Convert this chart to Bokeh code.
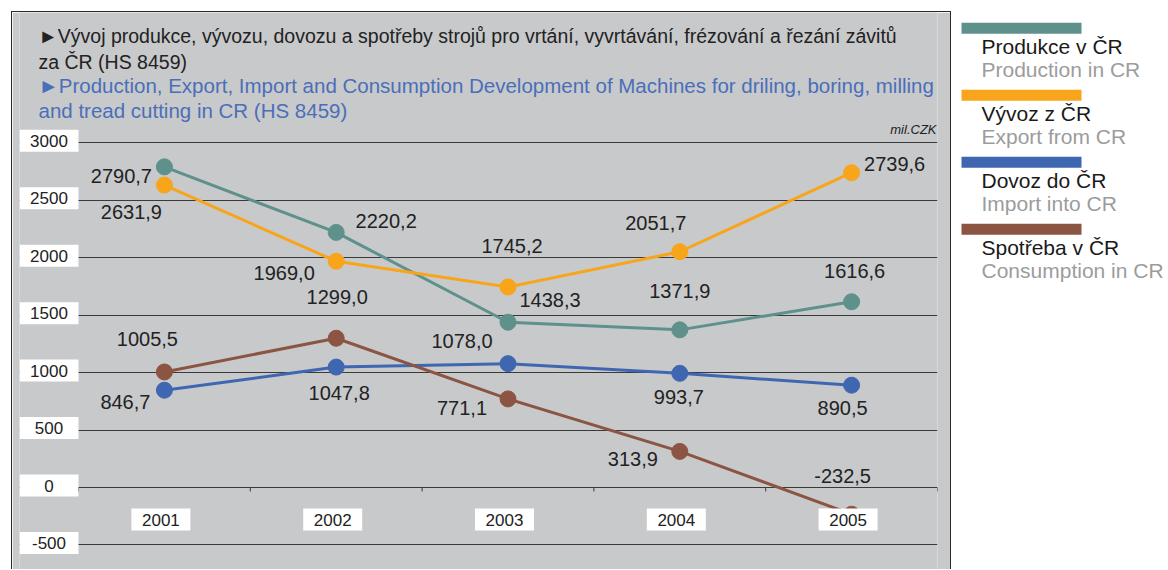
from bokeh.plotting import figure
from bokeh.models import Range1d, FixedTicker, ColumnDataSource
from bokeh.layouts import row
from bokeh.embed import file_html
from bokeh.resources import INLINE
from bokeh.core.properties import value

# ---------------- data ----------------
years = ["2001", "2002", "2003", "2004", "2005"]
produkce = [2790.7, 2220.2, 1438.3, 1371.9, 1616.6]
vyvoz = [2631.9, 1969.0, 1745.2, 2051.7, 2739.6]
dovoz = [846.7, 1047.8, 1078.0, 993.7, 890.5]
spotreba = [1005.5, 1299.0, 771.1, 313.9, -232.5]
y_ticks = [-500, 0, 500, 1000, 1500, 2000, 2500, 3000]

series_cz = ["Produkce v ČR", "Vývoz z ČR", "Dovoz do ČR", "Spotřeba v ČR"]
series_en = ["Production in CR", "Export from CR", "Import into CR", "Consumption in CR"]
title_cz = ["►Vývoj produkce, vývozu, dovozu a spotřeby strojů pro vrtání, vyvrtávání, frézování a řezání závitů",
            "za ČR (HS 8459)"]
title_en = ["►Production, Export, Import and Consumption Development of Machines for driling, boring, milling",
            "and tread cutting in CR (HS 8459)"]
unit_label = "mil.CZK"

# ---------------- styles / positions ----------------
colors = ["#5f918c", "#f8a51b", "#3f67b1", "#8c5543"]
BG = "#c8c9cb"
FONT = "Liberation Sans"
label_dx = [[-43, 50, 42, 0, 3], [-33, -52, 4, -24, 43], [-39, 3, -46, -1, -9], [-17, 1, -46, -47, -9]]
label_dy = [[9, -11, -22, -39, -31], [27, 12, -41, -29, -9], [12, 26, -23, 24, 23], [-33, -41, 9, 8, -38]]

W_L, H_L = 940, 558
FL, FR = 7, 15
frame_w = W_L - FL - FR
X_PX = 171.8          # px per category
Y_PX = 0.1149         # px per unit
n = len(years)
x_end = n - 0.5
x_start = x_end - frame_w / X_PX
y_end = 475 / Y_PX    # zero line 475 px below frame top
y_start = y_end - H_L / Y_PX

p = figure(width=W_L, height=H_L, output_backend="svg", toolbar_location=None,
           x_range=Range1d(x_start, x_end), y_range=Range1d(y_start, y_end),
           min_border_left=FL, min_border_right=FR, min_border_top=0, min_border_bottom=0,
           background_fill_color=BG, border_fill_color=BG, outline_line_color=None)
p.styles = {"margin": "11px 0px 0px 11px", "border-left": "1px solid #2a2a2a",
            "border-top": "1px solid #2a2a2a", "border-right": "1px solid #2a2a2a"}
p.xaxis.visible = False
p.yaxis.visible = False
p.xgrid.visible = False
p.ygrid.ticker = FixedTicker(ticks=y_ticks)
p.ygrid.grid_line_color = "#3a3a3a"
p.ygrid.grid_line_width = 1

# titles
title_lines = [title_cz[0], title_cz[1], title_en[0], title_en[1]]
title_cols = ["#222222", "#222222", "#4a6fb8", "#4a6fb8"]
title_sizes = ["19.5px", "19.5px", "20.5px", "20.5px"]
title_dy = [23, 49, 73, 98]
for txt, col, fs, dy in zip(title_lines, title_cols, title_sizes, title_dy):
    p.text(x=[x_start], y=[y_end], text=[txt], x_offset=19, y_offset=dy,
           text_align="left", text_baseline="middle", text_font=value(FONT),
           text_font_size=fs, text_color=col)

# zero-line tick marks at category boundaries
bounds = [i - 0.5 for i in range(n + 1)]
p.segment(x0=bounds, y0=[0] * len(bounds), x1=bounds, y1=[-4 / Y_PX] * len(bounds),
          line_color="#3a3a3a", line_width=1)

xs = list(range(n))
all_series = [produkce, vyvoz, dovoz, spotreba]
for vals, col in zip(all_series, colors):
    p.line(xs, vals, line_color=col, line_width=3)
    p.scatter(xs, vals, size=16, fill_color=col, line_color=col)

for vals, dxs, dys in zip(all_series, label_dx, label_dy):
    src = ColumnDataSource(dict(x=xs, y=vals, t=[format(v, ".1f").replace(".", ",") for v in vals],
                                dx=dxs, dy=dys))
    p.text(x="x", y="y", text="t", x_offset="dx", y_offset="dy", source=src,
           text_align="center", text_baseline="middle", text_font=value(FONT),
           text_font_size="20px", text_color="#222222")

# y tick labels in white boxes
ytx = -0.5 - 29.5 / X_PX
p.rect(x=[ytx] * len(y_ticks), y=[t + 2 / Y_PX for t in y_ticks], width=59, height=22,
       width_units="screen", height_units="screen", fill_color="white", line_color=None)
p.text(x=[ytx] * len(y_ticks), y=y_ticks, text=[str(t) for t in y_ticks], y_offset=-2,
       text_align="center", text_baseline="middle", text_font=value(FONT),
       text_font_size="17px", text_color="#222222")

# category labels in white boxes
cx = [i - 3.5 / X_PX for i in xs]
cy = -32 / Y_PX
p.rect(x=cx, y=[cy] * n, width=59, height=22, width_units="screen", height_units="screen",
       fill_color="white", line_color=None)
p.text(x=cx, y=[cy] * n, text=years, text_align="center", text_baseline="middle",
       text_font=value(FONT), text_font_size="17px", text_color="#222222")

# unit label
p.text(x=[x_end], y=[max(y_ticks)], text=[unit_label], x_offset=-1, y_offset=-13,
       text_align="right", text_baseline="middle", text_font=value(FONT),
       text_font_size="13px", text_font_style="italic", text_color="#222222")

# ---------------- legend panel (page pixel coordinates) ----------------
LX = 953
W_R, H_R = 214, H_L
lg = figure(width=W_R, height=H_R, output_backend="svg", toolbar_location=None,
            x_range=Range1d(LX, LX + W_R), y_range=Range1d(H_R, 0),
            min_border=0, background_fill_color="white", border_fill_color="white",
            outline_line_color=None)
lg.axis.visible = False
lg.grid.visible = False
rows_i = list(range(len(series_cz)))
lg.rect(x=[1023] * len(rows_i), y=[27.8 + 67 * i for i in rows_i], width=120, height=11,
        fill_color=colors, line_color=None)
lg.text(x=[983] * len(rows_i), y=[46.2 + 67 * i for i in rows_i], text=series_cz,
        text_align="left", text_baseline="middle", text_font=value(FONT),
        text_font_size="21px", text_color="#1a1a1a")
lg.text(x=[983] * len(rows_i), y=[69 + 67 * i for i in rows_i], text=series_en,
        text_align="left", text_baseline="middle", text_font=value(FONT),
        text_font_size="21px", text_color="#9c9c9c")

layout = row(p, lg)
open("out.html", "w").write(file_html(layout, INLINE))
